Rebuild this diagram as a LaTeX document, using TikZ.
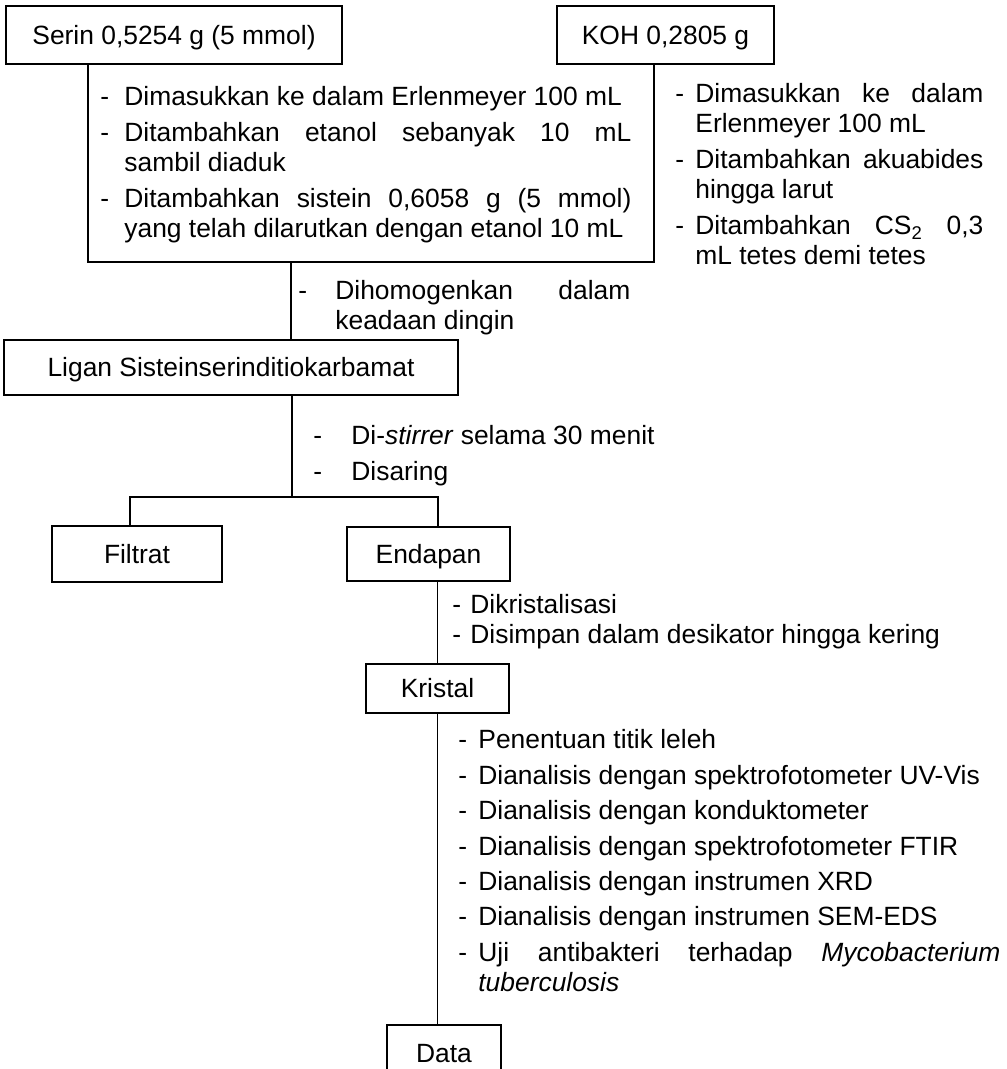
\documentclass[tikz,border=0pt]{standalone}
\usepackage{fontspec}
\setmainfont{Liberation Sans}
\usepackage{tikz}

% dash in front of each step, wrapped lines hang under the text
\newlength{\dashw}
\newcommand{\itm}[1]{\par\noindent\hangindent=\dashw\hangafter=1\makebox[\dashw][l]{-}#1\par}
\newcommand{\stepset}[2]{\setlength{\dashw}{#1}\setlength{\parskip}{#2}\hyphenpenalty=10000 \exhyphenpenalty=10000 \tolerance=10000 }

\begin{document}
\begin{tikzpicture}[x=0.5pt, y=-0.5pt,
  box/.style={draw, line width=0.8pt, inner sep=0pt, text height=12.4pt, text depth=3pt, font=\fontsize{13.2}{15}\selectfont},
  steps/.style={anchor=north west, inner sep=0pt, align=justify, font=\fontsize{13.2}{15}\selectfont},
  line/.style={line width=0.8pt}]
\useasboundingbox (0,0) rectangle (1006,1069);

% starting materials
\node[box, minimum width=168pt, minimum height=29pt] (serin) at (174,35) {Serin 0,5254 g (5 mmol)};
\node[box, minimum width=108.5pt, minimum height=29pt] (koh) at (665.5,35) {KOH 0,2805 g};

\node[steps, text width=265.5pt] (kerja1) at (100,69) {\stepset{12pt}{3pt}%
  \itm{Dimasukkan ke dalam Erlenmeyer 100 mL}
  \itm{Ditambahkan etanol sebanyak 10 mL\linebreak sambil diaduk}
  \itm{Ditambahkan sistein 0,6058 g (5 mmol)\linebreak yang telah dilarutkan dengan etanol 10 mL}};
\node[steps, text width=154pt] (kerja2) at (675,66) {\stepset{10pt}{3pt}%
  \itm{Dimasukkan ke dalam\linebreak Erlenmeyer 100 mL}
  \itm{Ditambahkan akuabides\linebreak hingga larut}
  \itm{Ditambahkan CS\textsubscript{2} 0,3\linebreak mL tetes demi tetes}};

\coordinate (j1) at (88,262);
\coordinate (j2) at (654,262);
\coordinate (jm) at (291,262);
\draw[line] (serin.south -| j1) -- (j1) -- (j2) -- (koh.south -| j2);

\node[steps, text width=166pt] (homogen) at (298,263) {\stepset{18.5pt}{3pt}%
  \itm{Dihomogenkan dalam\linebreak keadaan dingin}};

% ligand
\node[box, minimum width=227pt, minimum height=27.5pt] (ligan) at (231,367.5) {Ligan Sisteinserinditiokarbamat};
\draw[line] (jm) -- (ligan.north -| jm);

\node[steps, text width=180pt] (saring) at (313,408) {\stepset{19pt}{3pt}%
  \itm{Di-\textit{stirrer} selama 30 menit}
  \itm{Disaring}};

\coordinate (s0) at (292,497);
\coordinate (s1) at (130,497);
\coordinate (s2) at (438,497);
\node[box, minimum width=85pt, minimum height=28pt] (filtrat) at (137,554) {Filtrat};
\node[box, minimum width=81.5pt, minimum height=27pt] (endapan) at (428.5,554) {Endapan};
\draw[line] (ligan.south -| s0) -- (s0);
\draw[line] (filtrat.north -| s1) -- (s1) -- (s2) -- (endapan.north -| s2);

\node[steps, text width=270pt] (kristalisasi) at (452,583) {\stepset{9pt}{0pt}%
  \itm{Dikristalisasi}
  \itm{Disimpan dalam desikator hingga kering}};

% crystal and analyses
\node[box, minimum width=71.5pt, minimum height=24.5pt] (kristal) at (437.5,688.5) {Kristal};
\draw[line] (endapan.south -| kristal) -- (kristal.north);

\node[steps, text width=271pt] (analisis) at (458,713) {\stepset{10pt}{2.7pt}%
  \itm{Penentuan titik leleh}
  \itm{Dianalisis dengan spektrofotometer UV-Vis}
  \itm{Dianalisis dengan konduktometer}
  \itm{Dianalisis dengan spektrofotometer FTIR}
  \itm{Dianalisis dengan instrumen XRD}
  \itm{Dianalisis dengan instrumen SEM-EDS}
  \itm{Uji antibakteri terhadap \textit{Mycobacterium}\linebreak \textit{tuberculosis}}};

\node[box, minimum width=57pt, minimum height=28pt] (data) at (444,1053) {Data};
\draw[line] (kristal.south) -- (kristal.south |- data.north);

\end{tikzpicture}
\end{document}
